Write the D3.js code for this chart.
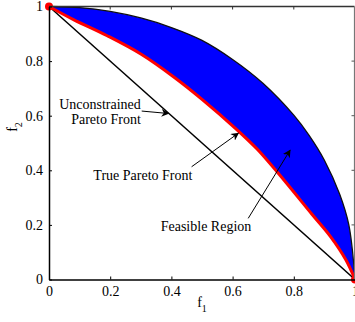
<!DOCTYPE html>
<html>
<head>
<meta charset="utf-8">
<script src="https://cdn.jsdelivr.net/npm/d3@7"></script>
<style>
html,body{margin:0;padding:0;background:#fff;}
svg{display:block;}
svg text{font-family:"Liberation Serif","DejaVu Serif",serif !important;fill:#000;}
</style>
</head>
<body>
<svg id="chart" width="355" height="322"></svg>
<script>
// ---- data ----
const outerF1 = [0, 0.1, 0.2, 0.3, 0.4, 0.5, 0.6, 0.7, 0.8, 0.85, 0.9, 0.95, 0.98, 1];
const outerF2 = [1, 0.996, 0.982, 0.958, 0.923, 0.876, 0.806, 0.718, 0.602, 0.528, 0.437, 0.312, 0.199, 0];
const trueF1 = [0, 0.08, 0.19, 0.30, 0.41, 0.50, 0.61, 0.68, 0.75, 0.86, 0.92, 0.97, 1];
const trueF2 = [1, 0.952, 0.893, 0.826, 0.74, 0.66, 0.553, 0.478, 0.388, 0.238, 0.157, 0.072, 0];
const unconF1 = [0, 1];
const unconF2 = [1, 0];
const xTicks = [0, 0.2, 0.4, 0.6, 0.8, 1];
const yTicks = [0, 0.2, 0.4, 0.6, 0.8, 1];
const labels = [
  {text: "Unconstrained", f1: 0.300, f2: 0.625, anchor: "end"},
  {text: "Pareto Front", f1: 0.300, f2: 0.570, anchor: "end"},
  {text: "True Pareto Front", f1: 0.145, f2: 0.364, anchor: "start"},
  {text: "Feasible Region", f1: 0.365, f2: 0.179, anchor: "start"}
];
const arrows = [
  {x1: 0.303, y1: 0.617, x2: 0.391, y2: 0.608},
  {x1: 0.466, y1: 0.413, x2: 0.619, y2: 0.536},
  {x1: 0.651, y1: 0.224, x2: 0.788, y2: 0.474}
];

// ---- layout ----
const FONT = '"Liberation Serif","DejaVu Serif",serif';
const svg = d3.select("#chart");
const x = d3.scaleLinear().domain([0, 1]).range([49, 355]);
const y = d3.scaleLinear().domain([0, 1]).range([279.5, 6.5]);

const outer = outerF1.map((v, i) => [v, outerF2[i]]);
const tru = trueF1.map((v, i) => [v, trueF2[i]]);
const uncon = unconF1.map((v, i) => [v, unconF2[i]]);

const line = d3.line().x(d => x(d[0])).y(d => y(d[1])).curve(d3.curveCatmullRom.alpha(0.5));
const straight = d3.line().x(d => x(d[0])).y(d => y(d[1]));

// feasible region fill
const regionPath = line(outer) + line(tru.slice().reverse()).replace(/^M/, "L") + "Z";
svg.append("path").attr("d", regionPath).attr("fill", "#0000ff").attr("stroke", "none");

// outer boundary
svg.append("path").attr("d", line(outer)).attr("fill", "none").attr("stroke", "#111").attr("stroke-width", 1.3);

// unconstrained front
svg.append("path").attr("d", straight(uncon)).attr("fill", "none").attr("stroke", "#000").attr("stroke-width", 1.5);

// true pareto front
svg.append("path").attr("d", line(tru)).attr("fill", "none").attr("stroke", "#ff0000").attr("stroke-width", 3);

// end markers
svg.selectAll("circle.end").data([tru[0], tru[tru.length - 1]]).enter().append("circle")
  .attr("cx", d => x(d[0])).attr("cy", d => y(d[1])).attr("r", 4).attr("fill", "#ff0000");

// frame
svg.append("line").attr("x1", x(0)).attr("x2", 354.5).attr("y1", y(1)).attr("y2", y(1)).attr("stroke", "#333").attr("stroke-width", 1.5);
svg.append("line").attr("x1", 354.5).attr("x2", 354.5).attr("y1", y(1)).attr("y2", y(0)).attr("stroke", "#777").attr("stroke-width", 1.2);

// axes
const xAxis = d3.axisBottom(x).tickValues(xTicks).tickSizeInner(-3).tickSizeOuter(0).tickPadding(7).tickFormat(d3.format("~g"));
const gx = svg.append("g").attr("transform", `translate(0,${y(0)})`).call(xAxis);
const yAxis = d3.axisLeft(y).tickValues(yTicks).tickSizeInner(-3).tickSizeOuter(0).tickPadding(6).tickFormat(d3.format("~g"));
const gy = svg.append("g").attr("transform", `translate(${x(0)},0)`).call(yAxis);
[gx, gy].forEach(g => {
  g.attr("font-family", FONT).attr("font-size", 14);
  g.select(".domain").attr("stroke", "#000").attr("stroke-width", 1.5);
  g.selectAll(".tick line").attr("stroke", "#000");
  g.selectAll(".tick text").attr("font-family", FONT).attr("font-size", 14).attr("fill", "#000");
});
// mirrored ticks top/right
svg.selectAll("line.tt").data(xTicks.slice(1, -1)).enter().append("line")
  .attr("x1", d => x(d)).attr("x2", d => x(d)).attr("y1", y(1)).attr("y2", y(1) + 3).attr("stroke", "#333");
svg.selectAll("line.rt").data(yTicks.slice(1, -1)).enter().append("line")
  .attr("x1", 354.5).attr("x2", 351.5).attr("y1", d => y(d)).attr("y2", d => y(d)).attr("stroke", "#555");

// axis labels
const xl = svg.append("text").attr("x", 202).attr("y", 307).attr("text-anchor", "middle").attr("font-family", FONT).attr("font-size", 14);
xl.append("tspan").text("f");
xl.append("tspan").attr("font-size", 10).attr("dy", 5).text("1");
const yl = svg.append("text").attr("transform", "translate(17,127) rotate(-90)").attr("text-anchor", "middle").attr("font-family", FONT).attr("font-size", 14);
yl.append("tspan").text("f");
yl.append("tspan").attr("font-size", 10).attr("dy", 5).text("2");

// annotations
svg.selectAll("text.ann").data(labels).enter().append("text")
  .attr("x", d => x(d.f1)).attr("y", d => y(d.f2)).attr("text-anchor", d => d.anchor)
  .attr("font-family", FONT).attr("font-size", 14).text(d => d.text);

svg.append("defs").append("marker").attr("id", "ah").attr("viewBox", "0 0 10 10")
  .attr("refX", 9).attr("refY", 5).attr("markerWidth", 8).attr("markerHeight", 8)
  .attr("markerUnits", "userSpaceOnUse").attr("orient", "auto")
  .append("path").attr("d", "M0,0 L10,5 L0,10 L3,5 Z").attr("fill", "#000");
svg.selectAll("line.arr").data(arrows).enter().append("line")
  .attr("x1", d => x(d.x1)).attr("y1", d => y(d.y1)).attr("x2", d => x(d.x2)).attr("y2", d => y(d.y2))
  .attr("stroke", "#000").attr("stroke-width", 1).attr("marker-end", "url(#ah)");
</script>
</body>
</html>
